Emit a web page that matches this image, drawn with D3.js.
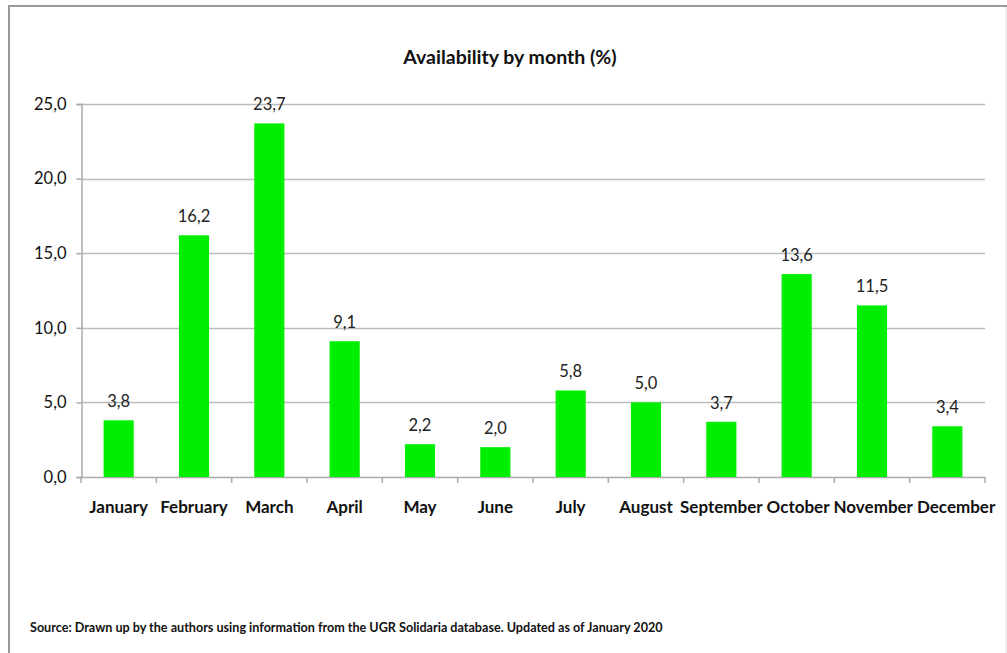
<!DOCTYPE html>
<html>
<head>
<meta charset="utf-8">
<script src="https://cdn.jsdelivr.net/npm/d3@7"></script>
<style>
  body { margin: 0; background: #fff; }
  svg { display: block; font-family: Lato, "Open Sans", sans-serif; }
</style>
</head>
<body>
<svg id="chart" width="1007" height="653"></svg>
<script>
// chart data
var months = ['January', 'February', 'March', 'April', 'May', 'June',
  'July', 'August', 'September', 'October', 'November', 'December'];
var availability = [3.8, 16.2, 23.7, 9.1, 2.2, 2.0, 5.8, 5.0, 3.7, 13.6, 11.5, 3.4];
var yTicks = [0, 5, 10, 15, 20, 25];

var title = 'Availability by month (%)';
var source = 'Source: Drawn up by the authors using information from the UGR Solidaria database. Updated as of January 2020';

var margins = { left: 81, right: 22, top: 104, bottom: 176 };
var width = 1007, height = 653;

var svg = d3.select('#chart');

// outer frame
svg.append('line').attr('x1', 8).attr('x2', 1007).attr('y1', 6).attr('y2', 6)
  .attr('stroke', '#999').attr('stroke-width', 2);
svg.append('line').attr('x1', 9).attr('x2', 9).attr('y1', 5).attr('y2', 653)
  .attr('stroke', '#999').attr('stroke-width', 2);
svg.append('line').attr('x1', 1006).attr('x2', 1006).attr('y1', 7).attr('y2', 653)
  .attr('stroke', '#ddd').attr('stroke-width', 1);

var fmt = function(v) { return d3.format('.1f')(v).replace('.', ','); };

var x = d3.scaleBand()
  .domain(months)
  .range([margins.left, width - margins.right])
  .paddingInner(0.6)
  .paddingOuter(0.3);

var y = d3.scaleLinear()
  .domain([0, 25])
  .range([height - margins.bottom, margins.top]);

var step = x.step();
var x0 = margins.left, x1 = width - margins.right;

// gridlines
svg.append('g').selectAll('line').data(yTicks.filter(function(d) { return d > 0; }))
  .enter().append('line')
  .attr('x1', x0).attr('x2', x1)
  .attr('y1', function(d) { return Math.round(y(d)) + 0.5; })
  .attr('y2', function(d) { return Math.round(y(d)) + 0.5; })
  .attr('stroke', '#bbb').attr('stroke-width', 1.5);

// y axis
var yAxis = svg.append('g')
  .attr('transform', 'translate(' + (x0 + 0.5) + ',0)')
  .call(d3.axisLeft(y).tickValues(yTicks).tickFormat(fmt).tickSize(5).tickPadding(10));
yAxis.selectAll('line, path').attr('stroke', '#aaa').attr('stroke-width', 1.5);
yAxis.selectAll('text').attr('font-size', 16.5).attr('fill', '#111')
  .attr('font-family', 'Lato, sans-serif');

// x axis with boundary ticks
var xAxis = svg.append('g');
xAxis.append('line')
  .attr('x1', x0).attr('x2', x1)
  .attr('y1', Math.round(y(0)) + 0.5).attr('y2', Math.round(y(0)) + 0.5)
  .attr('stroke', '#aaa').attr('stroke-width', 1.5);
xAxis.selectAll('.bt').data(d3.range(months.length + 1))
  .enter().append('line')
  .attr('class', 'bt')
  .attr('x1', function(i) { return x0 + i * step; })
  .attr('x2', function(i) { return x0 + i * step; })
  .attr('y1', y(0)).attr('y2', y(0) + 6)
  .attr('stroke', '#aaa').attr('stroke-width', 1.5);
var catLabels = xAxis.selectAll('text').data(months)
  .enter().append('text')
  .attr('y', y(0) + 36)
  .attr('font-size', 17).attr('font-weight', 'bold').attr('fill', '#111')
  .text(function(d) { return d; });

// push labels right when they would collide (like Excel does)
var w = [];
catLabels.each(function() { w.push(this.getComputedTextLength()); });
var lefts = months.map(function(m, i) { return x(m) + x.bandwidth() / 2 - w[i] / 2; });
var edge = 0;
for (var i = 0; i < months.length; i++) {
  if (lefts[i] < edge) lefts[i] = edge;
  edge = lefts[i] + w[i] + 4;
}
catLabels.attr('x', function(d, i) { return lefts[i]; });

// bars
svg.append('g').selectAll('rect').data(availability)
  .enter().append('rect')
  .attr('x', function(d, i) { return x(months[i]); })
  .attr('width', x.bandwidth())
  .attr('y', function(d) { return y(d); })
  .attr('height', function(d) { return y(0) - y(d); })
  .attr('fill', '#00ee00');

// value labels
svg.append('g').selectAll('text').data(availability)
  .enter().append('text')
  .attr('x', function(d, i) { return x(months[i]) + x.bandwidth() / 2; })
  .attr('y', function(d) { return y(d) - 13; })
  .attr('text-anchor', 'middle')
  .attr('font-size', 16.5).attr('fill', '#222')
  .text(fmt);

// title
svg.append('text')
  .attr('x', 510).attr('y', 64)
  .attr('text-anchor', 'middle')
  .attr('font-size', 19.5).attr('font-weight', 'bold').attr('fill', '#111')
  .text(title);

// source note
svg.append('text')
  .attr('x', 30).attr('y', 632)
  .attr('font-size', 12.6).attr('font-weight', 'bold').attr('fill', '#111')
  .text(source);
</script>
</body>
</html>
